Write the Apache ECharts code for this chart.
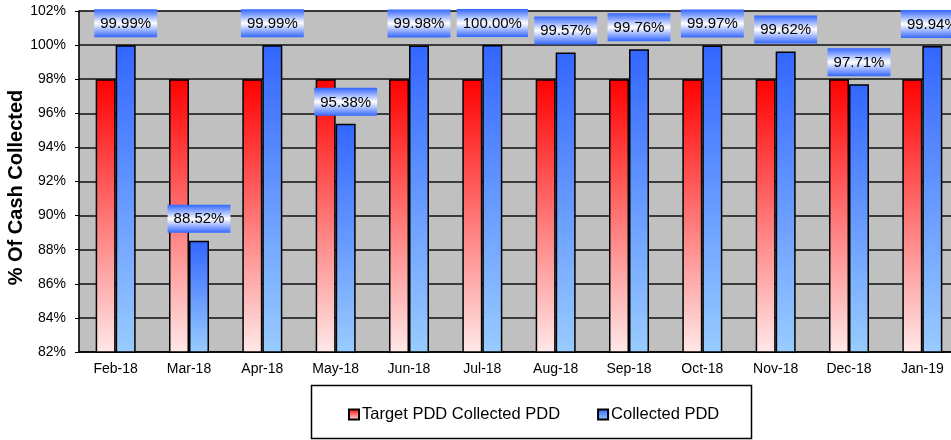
<!DOCTYPE html>
<html>
<head>
<meta charset="utf-8">
<script src="https://cdn.jsdelivr.net/npm/echarts@6/dist/echarts.min.js"></script>
<style>
  html, body { margin: 0; padding: 0; background: #fff; }
  #chart { width: 951px; height: 440px; }
</style>
</head>
<body>
<div id="chart"></div>
<script>
const months = ['Feb-18', 'Mar-18', 'Apr-18', 'May-18', 'Jun-18', 'Jul-18', 'Aug-18', 'Sep-18', 'Oct-18', 'Nov-18', 'Dec-18', 'Jan-19'];
const targetPdd = [98, 98, 98, 98, 98, 98, 98, 98, 98, 98, 98, 98];
const collectedPdd = [99.99, 88.52, 99.99, 95.38, 99.98, 100.00, 99.57, 99.76, 99.97, 99.62, 97.71, 99.94];
const yTicks = [82, 84, 86, 88, 90, 92, 94, 96, 98, 100, 102];

const font = 'Liberation Sans, Arial, sans-serif';
const chart = echarts.init(document.getElementById('chart'));

const redFill = new echarts.graphic.LinearGradient(0, 0, 0, 1, [
  { offset: 0, color: '#ff0000' },
  { offset: 1, color: '#ffe8e8' }
]);
const blueFill = new echarts.graphic.LinearGradient(0, 0, 0, 1, [
  { offset: 0, color: '#3366ff' },
  { offset: 1, color: '#99ccff' }
]);
// label box: blue at the edges, white in the middle
const labelFill = new echarts.graphic.LinearGradient(0, 0, 0, 1, [
  { offset: 0, color: '#3366ff' },
  { offset: 0.5, color: '#ffffff' },
  { offset: 1, color: '#3366ff' }
]);

chart.setOption({
  animation: false,
  backgroundColor: '#fff',
  textStyle: { fontFamily: font },
  grid: {
    left: 79, right: -8, top: 11, bottom: 88,
    outerBoundsMode: 'none',
    containLabel: false,
    show: true,
    backgroundColor: '#c0c0c0',
    borderColor: '#808080',
    borderWidth: 1
  },
  graphic: [{
    type: 'rect',
    left: 309, top: 383,
    shape: { width: 440, height: 53 },
    style: { fill: 'none', stroke: '#000', lineWidth: 1.5 },
    z: 0
  }],
  legend: {
    left: 343, top: 401,
    icon: 'rect',
    itemWidth: 10, itemHeight: 10,
    itemGap: 37,
    textStyle: { fontSize: 16.5, color: '#000', fontFamily: font, padding: [0, 0, 0, -2] },
    data: ['Target PDD Collected PDD', 'Collected PDD']
  },
  xAxis: {
    type: 'category',
    data: months,
    axisLine: { lineStyle: { color: '#000', width: 1.5 } },
    axisTick: { length: 5, lineStyle: { color: '#000' } },
    axisLabel: { fontSize: 14, color: '#000', margin: 10 }
  },
  yAxis: {
    type: 'value',
    min: yTicks[0], max: yTicks[yTicks.length - 1], interval: 2,
    name: '% Of Cash Collected',
    nameLocation: 'middle',
    nameGap: 53,
    nameMoveOverlap: false,
    nameTextStyle: { fontSize: 20, fontWeight: 'bold', color: '#000', fontFamily: font, padding: [0, 12, 0, 0] },
    axisLine: { show: true, lineStyle: { color: '#000', width: 1.5 } },
    axisTick: { show: true, length: 4, lineStyle: { color: '#000' } },
    axisLabel: { fontSize: 14, color: '#000', margin: 13, formatter: v => v + '%' },
    splitLine: { lineStyle: { color: '#111', width: 1.5 } }
  },
  series: [
    {
      name: 'Target PDD Collected PDD',
      type: 'bar',
      data: targetPdd,
      barWidth: 20,
      barGap: '0%',
      itemStyle: { color: redFill, borderColor: '#000', borderWidth: 1.5 }
    },
    {
      name: 'Collected PDD',
      type: 'bar',
      data: collectedPdd,
      barWidth: 20,
      itemStyle: { color: blueFill, borderColor: '#000', borderWidth: 1.5 },
      label: {
        show: true,
        position: 'top',
        distance: 8,
        fontSize: 15,
        color: '#000',
        fontFamily: font,
        backgroundColor: labelFill,
        padding: [7, 6, 6, 6],
        formatter: p => p.value.toFixed(2) + '%'
      }
    }
  ]
});
</script>
</body>
</html>
